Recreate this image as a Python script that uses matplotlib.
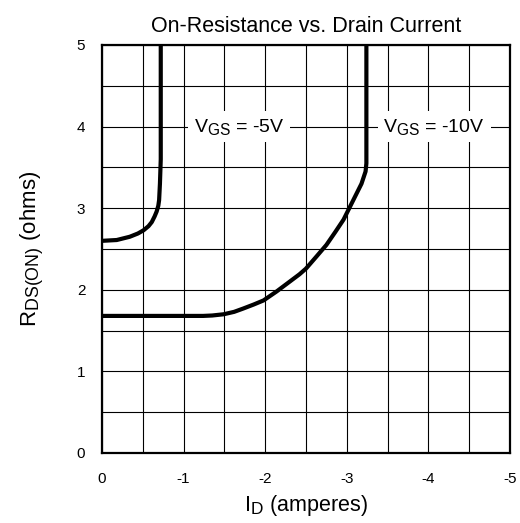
import numpy as np
import matplotlib
matplotlib.use('Agg')
import matplotlib.pyplot as plt
import matplotlib._mathtext as mathtext

# subscripts in the datasheet are only a bit smaller than the main text
mathtext.SHRINK_FACTOR = 0.8

plt.rcParams['font.family'] = ['Liberation Sans', 'DejaVu Sans']
plt.rcParams['mathtext.fontset'] = 'custom'
plt.rcParams['mathtext.rm'] = 'Liberation Sans'
plt.rcParams['mathtext.it'] = 'Liberation Sans'
plt.rcParams['axes.unicode_minus'] = False

# curve data (I_D in amperes, R_DS(on) in ohms)
id_5v = [0, -0.18, -0.34, -0.44, -0.51, -0.57, -0.61, -0.645, -0.67, -0.69, -0.70, -0.71, -0.72, -0.72]
r_5v = [2.6, 2.61, 2.65, 2.69, 2.73, 2.78, 2.83, 2.9, 2.96, 3.03, 3.1, 3.3, 3.6, 5.0]

id_10v = [0, -1.0, -1.24, -1.35, -1.49, -1.62, -1.73, -1.86, -1.98, -2.14, -2.3, -2.42, -2.5,
          -2.63, -2.75, -2.86, -2.96, -3.08, -3.18, -3.23, -3.24, -3.24]
r_10v = [1.68, 1.68, 1.68, 1.685, 1.70, 1.73, 1.77, 1.82, 1.87, 1.98, 2.1, 2.19, 2.26,
         2.41, 2.55, 2.71, 2.86, 3.1, 3.3, 3.45, 3.55, 5.0]

xticks = [0, -1, -2, -3, -4, -5]
yticks = [0, 1, 2, 3, 4, 5]
labels = [r'$\mathrm{V_{GS}}$ = -5V', r'$\mathrm{V_{GS}}$ = -10V']
label_pos = [(-1.68, 4.0), (-4.07, 4.0)]

fig = plt.figure(figsize=(5.2, 5.23), dpi=100)
ax = fig.add_axes([102/520, 70/523, 408/520, 408/523])

ax.set_xlim(0, -5)
ax.set_ylim(0, 5)
ax.set_xticks(xticks)
ax.set_yticks(yticks)
ax.set_xticks(np.arange(0, -5.01, -0.5), minor=True)
ax.set_yticks(np.arange(0, 5.01, 0.5), minor=True)
ax.grid(which='both', color='black', lw=0.8)
ax.tick_params(which='both', length=0, labelsize=11)
ax.tick_params(axis='x', pad=14)
ax.tick_params(axis='y', pad=12)
for s in ax.spines.values():
    s.set_linewidth(1.6)

ax.plot(id_5v, r_5v, color='black', lw=3, solid_joinstyle='round', zorder=3)
ax.plot(id_10v, r_10v, color='black', lw=3, solid_joinstyle='round', zorder=3)

for txt, (x, y) in zip(labels, label_pos):
    ax.text(x, y, txt, fontsize=14, ha='center', va='center', zorder=4,
            bbox=dict(facecolor='white', edgecolor='none', pad=4))

ax.set_title('On-Resistance vs. Drain Current', fontsize=15.5, pad=9)
ax.set_xlabel(r'$\mathrm{I_D}$ (amperes)', fontsize=15.5, labelpad=5)
ax.set_ylabel(r'$\mathrm{R_{DS(ON)}}$ (ohms)', fontsize=16, labelpad=22)

fig.savefig('out.png', dpi=100)
